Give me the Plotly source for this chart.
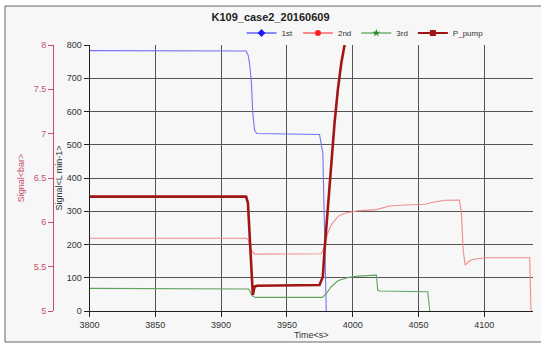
import plotly.graph_objects as go

# ---- data ----
first_t = [3800, 3919, 3920.5, 3921.6, 3922.9, 3924.1, 3925.4, 3927, 3974.8, 3977.3, 3978.6, 3979.9]
first_v = [783, 782, 770, 745, 695, 595, 544, 534, 531, 474, 244, 0]

second_t = [3800, 3919, 3920.5, 3922.9, 3925.4, 3927, 3976, 3978.6, 3981, 3983.7, 3988.7,
            3993.8, 4000, 4005, 4018, 4028, 4040, 4055, 4062, 4070, 4081, 4082.5, 4084,
            4085.5, 4088, 4091, 4101, 4134.5, 4135.5]
second_v = [219, 219, 215, 183, 171, 171, 172, 193, 234, 259, 284,
            294, 299, 302, 305, 316, 319, 321, 328, 333, 334, 300, 180,
            138, 148, 155, 160, 160, 0]

third_t = [3800, 3919, 3921, 3923.5, 3926, 3977, 3980, 3983.7, 3988.7, 3996.3, 4004, 4018,
           4019, 4020.5, 4040, 4057, 4058.6]
third_v = [68, 68, 66, 46, 41, 41, 53, 73, 91, 101, 105, 108, 63, 60, 59, 58, 0]

pump_t = [3800, 3919, 3920.4, 3921.6, 3922.9, 3924.1, 3925.4, 3927, 3974.8, 3977.3, 3978.6,
          3981.1, 3983.7, 3986.2, 3988.7, 3991.3, 3993.8, 3996]
pump_bar = [6.29, 6.29, 6.215, 5.836, 5.54, 5.18, 5.274, 5.285, 5.293, 5.386, 5.686,
            6.178, 6.665, 7.119, 7.494, 7.794, 8.0, 8.225]

x_ticks = [3800, 3850, 3900, 3950, 4000, 4050, 4100]
flow_ticks = [0, 100, 200, 300, 400, 500, 600, 700, 800]
bar_ticks = [5, 5.5, 6, 6.5, 7, 7.5, 8]
bar_labels = ["5", "5.5", "6", "6.5", "7", "7.5", "8"]

series_names = ["1st", "2nd", "3rd", "P_pump"]
line_colors = ["#7474f4", "#f08c8c", "#5fa35f", "#a31515"]
legend_colors = ["#1a1aff", "#ff2020", "#2e8b2e", "#a31515"]
legend_symbols = ["diamond", "circle", "star", "square"]

W, H = 541, 345
ML, MR, MT, MB = 30, 8, 45, 34
PW = W - ML - MR
PH = H - MT - MB

def px_x(p):
    return (p - ML) / PW

def px_y(p):
    return (H - MB - p) / PH

FONT = "Liberation Sans, Arial, sans-serif"
RED = "#c4506e"

fig = go.Figure()

fig.add_trace(go.Scatter(x=first_t, y=first_v, mode="lines", showlegend=False,
                         line=dict(color=line_colors[0], width=1.1), yaxis="y"))
fig.add_trace(go.Scatter(x=second_t, y=second_v, mode="lines", showlegend=False,
                         line=dict(color=line_colors[1], width=1.1), yaxis="y"))
fig.add_trace(go.Scatter(x=third_t, y=third_v, mode="lines", showlegend=False,
                         line=dict(color=line_colors[2], width=1.1), yaxis="y"))
fig.add_trace(go.Scatter(x=pump_t, y=pump_bar, mode="lines", showlegend=False,
                         line=dict(color=line_colors[3], width=2.6), yaxis="y2"))

# legend entries
for name, c, s in zip(series_names, legend_colors, legend_symbols):
    fig.add_trace(go.Scatter(x=[None], y=[None], mode="lines+markers", name=name,
                             line=dict(color=c, width=2 if name == "P_pump" else 1.2),
                             marker=dict(color=c, symbol=s, size=6),
                             yaxis="y3"))

fig.update_layout(
    width=W, height=H,
    margin=dict(l=ML, r=MR, t=MT, b=MB),
    paper_bgcolor="white",
    plot_bgcolor="white",
    font=dict(family=FONT, size=9, color="#333"),
    title=dict(text="<b>K109_case2_20160609</b>", x=0.5, xref="container", xanchor="center",
               y=1 - 17 / H, yref="container", yanchor="middle",
               font=dict(size=11, color="#222", family=FONT)),
    showlegend=True,
    legend=dict(orientation="h", x=px_x(365), xanchor="center", y=px_y(33), yanchor="middle",
                font=dict(size=8, color="#333"), bgcolor="rgba(0,0,0,0)",
                itemwidth=30, tracegroupgap=0),
    xaxis=dict(domain=[px_x(89.5), 1], range=[3800, 4137], tickvals=x_ticks,
               showgrid=True, gridcolor="#555", gridwidth=1,
               showline=True, linecolor="#222", linewidth=1,
               ticks="outside", ticklen=5, tickcolor="#222",
               zeroline=False, tickfont=dict(size=9, color="#333"),
               title=dict(text="Time&lt;s&gt;", font=dict(size=9, color="#333"), standoff=2)),
    yaxis=dict(range=[0, 800], tickvals=flow_ticks, showgrid=False,
               showline=True, linecolor="#222", linewidth=1,
               ticks="outside", ticklen=5, tickcolor="#222", zeroline=False,
               tickfont=dict(size=9, color="#333"),
               title=dict(text="Signal&lt;L min-1&gt;", font=dict(size=9, color="#333"), standoff=2)),
    yaxis2=dict(range=[5, 8], tickvals=bar_ticks, ticktext=bar_labels, overlaying="y",
                anchor="free", position=px_x(53), side="left", showgrid=False,
                showline=True, linecolor=RED, linewidth=1,
                ticks="outside", ticklen=5, tickcolor=RED, zeroline=False,
                tickfont=dict(size=9, color=RED),
                title=dict(text="Signal&lt;bar&gt;", font=dict(size=9, color=RED), standoff=6)),
    yaxis3=dict(range=[0, 800], tickvals=flow_ticks[:-1], overlaying="y", showgrid=True,
                gridcolor="#555", gridwidth=1, showticklabels=False, showline=False,
                zeroline=False, ticks=""),
    shapes=[dict(type="rect", xref="paper", yref="paper",
                 x0=px_x(5), x1=px_x(560), y0=px_y(342), y1=px_y(6),
                 fillcolor="#f7f7f7", line=dict(color="#666", width=1), layer="below")],
)

fig.write_html("out.html")
